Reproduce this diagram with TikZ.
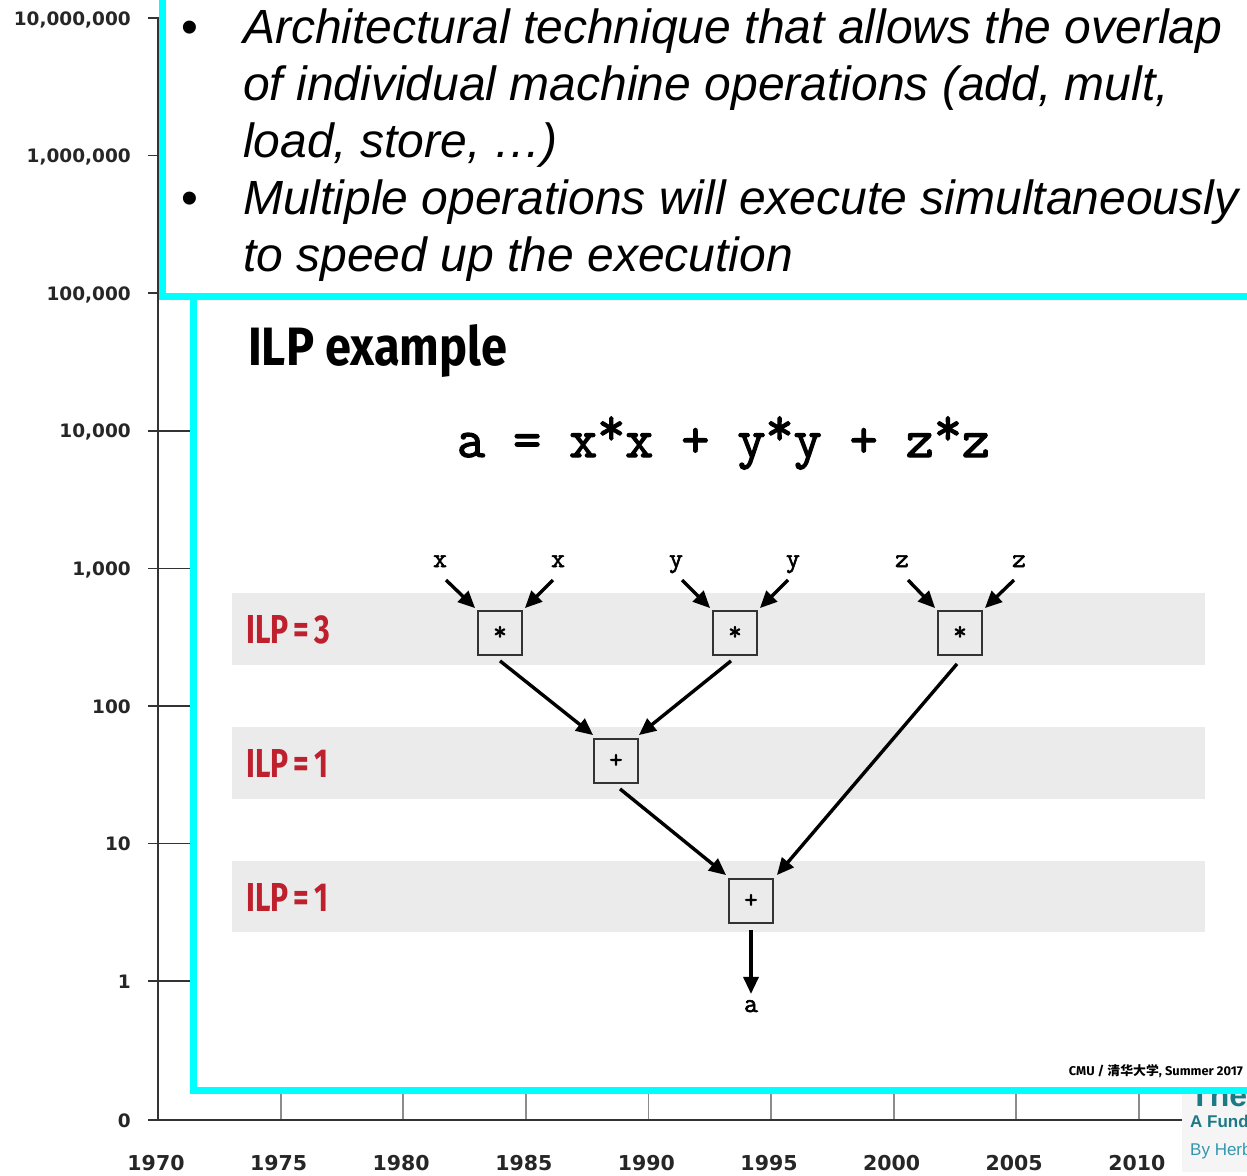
\documentclass[tikz,border=0pt]{standalone}
\usepackage{fontspec}
\setmainfont{Liberation Sans}
\newfontfamily\dvs{DejaVu Sans}
\newfontfamily\fira{Fira Sans}
\newfontfamily\cour{Latin Modern Mono}[FakeBold=2.2]
\newfontfamily\cjk{Noto Sans CJK SC}
\usetikzlibrary{arrows.meta,calc}
\newcommand\upast{\raisebox{0.22em}{*}}
\definecolor{cyanb}{RGB}{0,255,255}
\definecolor{bandgray}{RGB}{235,235,235}
\definecolor{ilpred}{RGB}{190,32,45}
\definecolor{tealA}{RGB}{28,122,132}
\definecolor{tealB}{RGB}{52,150,175}
\tikzset{
 ylab/.style={anchor=base east, inner sep=0, font=\dvs\bfseries\fontsize{18.5}{18.5}\selectfont, text=black!85},
 xlab/.style={anchor=base, inner sep=0, font=\dvs\bfseries\fontsize{20.5}{20.5}\selectfont, text=black!85},
 axisline/.style={draw=black!80, line width=1.8pt},
 ytick/.style={draw=black!80, line width=1.6pt},
 xtick/.style={draw=black!45, line width=1.8pt},
 btext/.style={anchor=base west, inner sep=0, font=\itshape\fontsize{48}{48}\selectfont},
 bdot/.style={anchor=base, inner sep=0, font=\fontsize{48}{48}\selectfont},
 ilplab/.style={anchor=base west, inner sep=0, text=ilpred},
 opbox/.style={draw=black!80, line width=1.8pt, minimum size=44pt, inner sep=0, font=\cour\fontsize{26}{26}\selectfont},
 invar/.style={anchor=base, inner sep=0, font=\cour\fontsize{27}{27}\selectfont},
 arr/.style={line width=3.4pt, -{Triangle[length=17pt,width=15pt]}},
 slidebox/.style={draw=cyanb, line width=7pt, fill=white},
}
\begin{document}
\begin{tikzpicture}[x=1pt,y=-1pt]
\useasboundingbox (0,0) rectangle (1247,1175);
\clip (0,0) rectangle (1247,1175);
\fill[white] (0,0) rectangle (1247,1175);

% ---- background chart axes
\draw[ytick] (148,18) -- (200,18);
\draw[ytick] (148,155.6) -- (200,155.6);
\draw[ytick] (148,293.2) -- (200,293.2);
\draw[ytick] (148,430.8) -- (200,430.8);
\draw[ytick] (148,568.4) -- (200,568.4);
\draw[ytick] (148,706) -- (200,706);
\draw[ytick] (148,843.6) -- (200,843.6);
\draw[ytick] (148,981.2) -- (200,981.2);
\foreach \xx in {280.6,403.2,525.8,648.4,771,893.6,1016.2,1138.8} {
  \draw[xtick] (\xx,1085) -- (\xx,1120);
}
\draw[axisline] (158,18) -- (158,1120);
\draw[axisline] (148,1120) -- (1182,1120);

\node[ylab] (l7) at (131,25) {10,000,000};
\node[ylab] (l6) at (131,162.6) {1,000,000};
\node[ylab] (l5) at (131,300.2) {100,000};
\node[ylab] (l4) at (131,437.8) {10,000};
\node[ylab] (l3) at (131,575.4) {1,000};
\node[ylab] (l2) at (131,713) {100};
\node[ylab] (l1) at (131,850.6) {10};
\node[ylab] (l0) at (131,988.2) {1};
\node[ylab] (lz) at (131,1127) {0};

\node[xlab] (y70) at (156,1170) {1970};
\node[xlab] (y75) at (278.6,1170) {1975};
\node[xlab] (y80) at (401.2,1170) {1980};
\node[xlab] (y85) at (523.8,1170) {1985};
\node[xlab] (y90) at (646.4,1170) {1990};
\node[xlab] (y95) at (769,1170) {1995};
\node[xlab] (y00) at (891.6,1170) {2000};
\node[xlab] (y05) at (1014.2,1170) {2005};
\node[xlab] (y10) at (1136.8,1170) {2010};

% ---- article snippet at bottom right (cut by the picture's edge, as in the reference)
\fill[black!4] (1182,1088) rectangle (1247,1172);
\node[anchor=base west, inner sep=0, text=tealA, font=\bfseries\fontsize{32}{32}\selectfont] (ttl) at (1190,1106) {The};
\node[anchor=base west, inner sep=0, text=tealA, font=\bfseries\fontsize{17}{17}\selectfont] (sub) at (1190,1127) {A Fundamental};
\node[anchor=base west, inner sep=0, text=tealB, font=\fontsize{17}{17}\selectfont] (aut) at (1190,1155) {By Herb Sutter};

% ---- ILP slide box
\draw[slidebox] (193,296) rectangle (1275,1090);
% ---- top text box
\draw[slidebox] (162,-20) rectangle (1275,296);

\node[bdot] (b1) at (190,43) {•};
\node[btext] (t1) at (243,43) {Architectural technique that allows the overlap};
\node[btext] (t2) at (243,100) {of individual machine operations (add, mult,};
\node[btext] (t3) at (243,157) {load, store, …)};
\node[bdot] (b2) at (190,214) {•};
\node[btext] (t4) at (243,214) {Multiple operations will execute simultaneously};
\node[btext] (t5) at (243,271) {to speed up the execution};

% ---- slide content
\node[anchor=base west, inner sep=0] (title) at (248,365) {\resizebox{259pt}{41pt}{\fira\bfseries ILP example}};
\node[anchor=base, inner sep=0] (eq) at (723.5,457) {\resizebox{533pt}{!}{\cour\fontsize{50}{50}\selectfont a = x\upast x + y\upast y + z\upast z}};

\fill[bandgray] (232,593) rectangle (1205,665);
\fill[bandgray] (232,727) rectangle (1205,799);
\fill[bandgray] (232,861) rectangle (1205,932);

\node[ilplab] (i1) at (246,643) {\resizebox{84pt}{28pt}{\fira\bfseries ILP\,=\,3}};
\node[ilplab] (i2) at (246,777) {\resizebox{82pt}{28pt}{\fira\bfseries ILP\,=\,1}};
\node[ilplab] (i3) at (246,911) {\resizebox{82pt}{28pt}{\fira\bfseries ILP\,=\,1}};

\node[opbox] (m1) at (500,633) {*};
\node[opbox] (m2) at (735,633) {*};
\node[opbox] (m3) at (960,633) {*};
\node[opbox] (p1) at (616,761) {+};
\node[opbox] (p2) at (751,901) {+};

\node[invar] (x1) at (440,567) {x};
\node[invar] (x2) at (558,567) {x};
\node[invar] (v1) at (676,567) {y};
\node[invar] (v2) at (793,567) {y};
\node[invar] (z1) at (902,567) {z};
\node[invar] (z2) at (1019,567) {z};
\node[invar] (out) at (751,1012) {a};

\draw[arr] ($(x1.base)+(6,13)$) -- ($(m1.north west)+(-2,-2)$);
\draw[arr] ($(x2.base)+(-5,13)$) -- ($(m1.north east)+(2,-2)$);
\draw[arr] ($(v1.base)+(6,13)$) -- ($(m2.north west)+(-2,-2)$);
\draw[arr] ($(v2.base)+(-5,13)$) -- ($(m2.north east)+(2,-2)$);
\draw[arr] ($(z1.base)+(6,13)$) -- ($(m3.north west)+(-2,-2)$);
\draw[arr] ($(z2.base)+(-5,13)$) -- ($(m3.north east)+(2,-2)$);

\draw[arr] ($(m1.south)+(0,5)$) -- ($(p1.north west)+(0,-3)$);
\draw[arr] ($(m2.south)+(-4,5)$) -- ($(p1.north east)+(0,-3)$);
\draw[arr] ($(m3.south)+(-3,8)$) -- ($(p2.north east)+(3,-3)$);
\draw[arr] ($(p1.south)+(4,5)$) -- ($(p2.north west)+(-2,-3)$);
\draw[arr] ($(p2.south)+(0,6)$) -- ($(out.north)+(0,-6)$);

\node[anchor=base east, inner sep=0] (cmu) at (1243,1075) {\resizebox{174pt}{11pt}{\fira\bfseries CMU / {\cjk 清华大学}, Summer 2017}};
\end{tikzpicture}
\end{document}
